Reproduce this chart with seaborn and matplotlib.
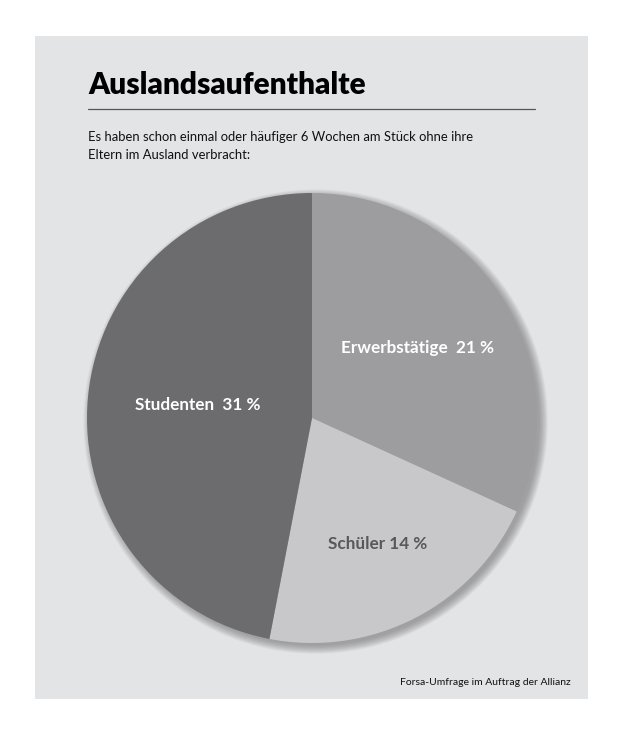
import matplotlib
matplotlib.use("Agg")
import matplotlib.pyplot as plt
import seaborn as sns
import numpy as np
from matplotlib.patches import Rectangle, Circle

categories = ["Erwerbstätige", "Schüler", "Studenten"]
values = [21, 14, 31]
label_texts = ["Erwerbstätige  21 %", "Schüler 14 %", "Studenten  31 %"]

title = "Auslandsaufenthalte"
subtitle_lines = ["Es haben schon einmal oder häufiger 6 Wochen am Stück ohne ihre",
                  "Eltern im Ausland verbracht:"]
source = "Forsa-Umfrage im Auftrag der Allianz"

sns.set_style("white")
plt.rcParams['font.family'] = ['Lato', 'DejaVu Sans']

colors = sns.color_palette(["#9d9d9f", "#c8c8ca", "#6c6c6e"])
text_colors = ["white", "#58585a", "white"]
label_dist = [0.56, 0.64, 0.51]

W, H = 630, 735
fig = plt.figure(figsize=(W / 100, H / 100), dpi=100)
fig.patch.set_facecolor("white")

def fx(px):
    return px / W

def fy(py):
    return 1 - py / H

# panel
fig.patches.append(Rectangle((fx(35), fy(699)), fx(588) - fx(35), fy(36) - fy(699),
                             transform=fig.transFigure, facecolor="#e3e4e6",
                             edgecolor="none", zorder=-5))

fig.text(fx(88), fy(94), title, fontsize=21.5, fontweight="heavy", color="black",
         va="baseline", ha="left")
fig.add_artist(plt.Line2D([fx(88), fx(535)], [fy(109), fy(109)], color="#555555",
                          lw=0.9, transform=fig.transFigure))
for i, line in enumerate(subtitle_lines):
    fig.text(fx(88), fy(141 + 18 * i), line, fontsize=9.4, color="#111111",
             va="baseline", ha="left")
fig.text(fx(571), fy(685), source, fontsize=7.5, color="#111111",
         va="baseline", ha="right")

cx, cy, r = 312, 418, 225
pad = 1.08
ax = fig.add_axes([fx(cx - r * pad), fy(cy + r * pad), fx(2 * r * pad), (2 * r * pad) / H])
ax.set_facecolor("none")

# soft shadow toward lower right
for i in range(16):
    ax.add_patch(Circle((0.016, -0.016), 0.995 + 0.0025 * i, facecolor="#6a6a6c",
                        alpha=0.045, edgecolor="none", zorder=0))

wedges, _ = ax.pie(values, colors=colors, startangle=90, counterclock=False,
                   radius=1.0, wedgeprops=dict(linewidth=0, zorder=2))

for w, t, tc, d in zip(wedges, label_texts, text_colors, label_dist):
    ang = np.deg2rad((w.theta1 + w.theta2) / 2)
    ax.text(d * np.cos(ang), d * np.sin(ang) + 0.01, t, ha="center", va="center",
            fontsize=12.3, fontweight="bold", color=tc, zorder=3)

ax.set_xlim(-pad, pad)
ax.set_ylim(-pad, pad)
ax.set_aspect("equal")
ax.axis("off")

fig.savefig("out.png", dpi=100, facecolor="white")
